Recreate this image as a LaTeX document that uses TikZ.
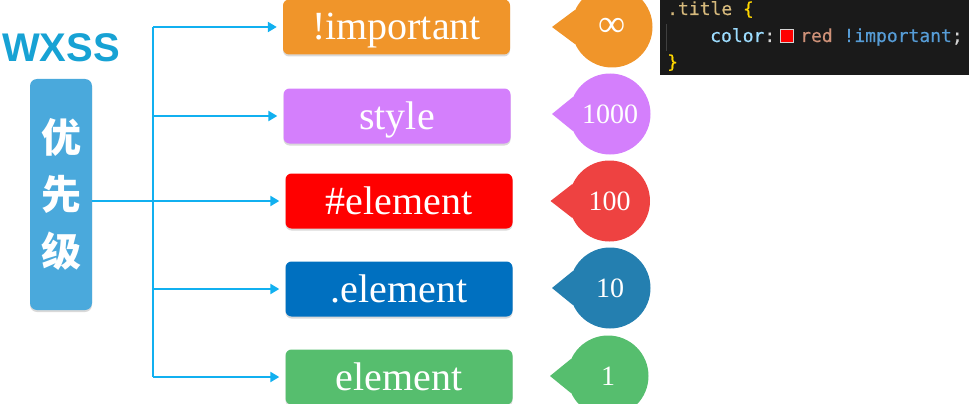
\documentclass[tikz,border=0pt]{standalone}
\usepackage{fontspec}
\setmainfont{Liberation Serif}
\newfontfamily\wxfont{Liberation Sans}
\newfontfamily\cjkfont{Noto Sans CJK SC}
\newfontfamily\codefont{DejaVu Sans Mono}[FakeBold=0.4]
\usetikzlibrary{arrows.meta,shadows}
\definecolor{wxblue}{HTML}{17A2D4}
\definecolor{priobox}{HTML}{4AA9DC}
\definecolor{linec}{HTML}{11B0F0}
\definecolor{corange}{HTML}{F0952A}
\definecolor{cpurple}{HTML}{D47FFC}
\definecolor{cred}{HTML}{FF0000}
\definecolor{cblue}{HTML}{0070C0}
\definecolor{cgreen}{HTML}{56BE6E}
\definecolor{bred}{HTML}{EE4241}
\definecolor{bblue}{HTML}{247FB0}
\definecolor{codebg}{HTML}{1A1A1A}
\definecolor{ctan}{HTML}{D7BA7D}
\definecolor{cgold}{HTML}{FFD700}
\definecolor{cprop}{HTML}{9CDCFE}
\definecolor{cpunct}{HTML}{D4D4D4}
\definecolor{cval}{HTML}{CE9178}
\definecolor{ckey}{HTML}{569CD6}
\definecolor{cguide}{HTML}{404040}
\begin{document}
\begin{tikzpicture}[x=1pt,y=-1pt,
  pbox/.style={rounded corners=6pt, minimum width=227pt, minimum height=55pt,
    inner sep=0pt, text=white, font=\fontsize{40}{48}\selectfont,
    text height=26pt, text depth=0pt,
    drop shadow={opacity=0.3, shadow xshift=0pt, shadow yshift=-2pt}},
  bubble/.style={circle, minimum size=81pt, inner sep=0pt, text=white,
    font=\fontsize{28}{32}\selectfont},
  trunk/.style={draw=linec, line width=2.5pt},
  arr/.style={draw=linec, line width=2.5pt, shorten >=6pt,
    -{Triangle[length=9pt,width=10pt]}},
  codetxt/.style={anchor=base west, inner sep=0pt,
    font=\codefont\fontsize{18}{20}\selectfont}
]
\useasboundingbox (0,0) rectangle (969,404);
\clip (0,0) rectangle (969,404);

% title and priority box
\node[font=\wxfont\bfseries\fontsize{40}{48}\selectfont, text=wxblue,
  anchor=base west, inner sep=0pt] (title) at (2,62) {WXSS};
\node[fill=priobox, rounded corners=7pt, minimum width=62pt, minimum height=231pt,
  inner sep=0pt, text=white, align=center,
  drop shadow={opacity=0.3, shadow xshift=0pt, shadow yshift=-2pt},
  font=\cjkfont\bfseries\fontsize{40}{57}\selectfont] (prio) at (61,194.5) {优\\先\\级};

% selector boxes
\node[pbox, fill=corange] (imp) at (396.5,27) {!important};
\node[pbox, fill=cpurple] (sty) at (397,116) {style};
\node[pbox, fill=cred] (idb) at (399,201) {\#element};
\node[pbox, fill=cblue] (clb) at (399,289) {.element};
\node[pbox, fill=cgreen] (elb) at (399,377) {element};

% connectors
\coordinate (t1) at (153,27);
\coordinate (t2) at (153,116);
\coordinate (t3) at (153,201);
\coordinate (t4) at (153,289);
\coordinate (t5) at (153,377);
\draw[trunk] (t1) -- (t5);
\draw[arr] (t1) -- (imp);
\draw[arr] (t2) -- (sty);
\draw[arr] (prio.east |- idb) -- (idb);
\draw[arr] (t4) -- (clb);
\draw[arr] (t5) -- (elb);

% bubbles
\node[bubble, fill=corange, font=\fontsize{38}{40}\selectfont] (b1) at (612,27) {∞};
\fill[corange] ([xshift=-60pt]b1.center) -- (b1.155) -- (b1.205) -- cycle;
\node[bubble, fill=cpurple] (b2) at (610,114) {1000};
\fill[cpurple] ([xshift=-58pt]b2.center) -- (b2.155) -- (b2.205) -- cycle;
\node[bubble, fill=bred] (b3) at (609.5,201) {100};
\fill[bred] ([xshift=-59pt]b3.center) -- (b3.155) -- (b3.205) -- cycle;
\node[bubble, fill=bblue] (b4) at (610,288) {10};
\fill[bblue] ([xshift=-58pt]b4.center) -- (b4.155) -- (b4.205) -- cycle;
\node[bubble, fill=cgreen] (b5) at (608,376) {1};
\fill[cgreen] ([xshift=-58pt]b5.center) -- (b5.155) -- (b5.205) -- cycle;

% code panel
\node[fill=codebg, minimum width=309pt, minimum height=75pt, inner sep=0pt,
  anchor=north west] (code) at (660,0) {};
\draw[cguide, line width=0.8pt] (666,24) -- (666,51);
\node[codetxt] (l1) at (667,15) {\textcolor{ctan}{.title} \textcolor{cgold}{\{}};
\node[codetxt] (l2a) at (710,42) {\textcolor{cprop}{color}\textcolor{cpunct}{:}};
\node[fill=cred, draw=cpunct, line width=1pt, minimum size=13pt, inner sep=0pt] (sq) at (786.5,36) {};
\node[codetxt] (l2b) at (800,42) {\textcolor{cval}{red} \textcolor{ckey}{!important}\textcolor{cpunct}{;}};
\node[codetxt] (l3) at (667,68) {\textcolor{cgold}{\}}};
\end{tikzpicture}
\end{document}
